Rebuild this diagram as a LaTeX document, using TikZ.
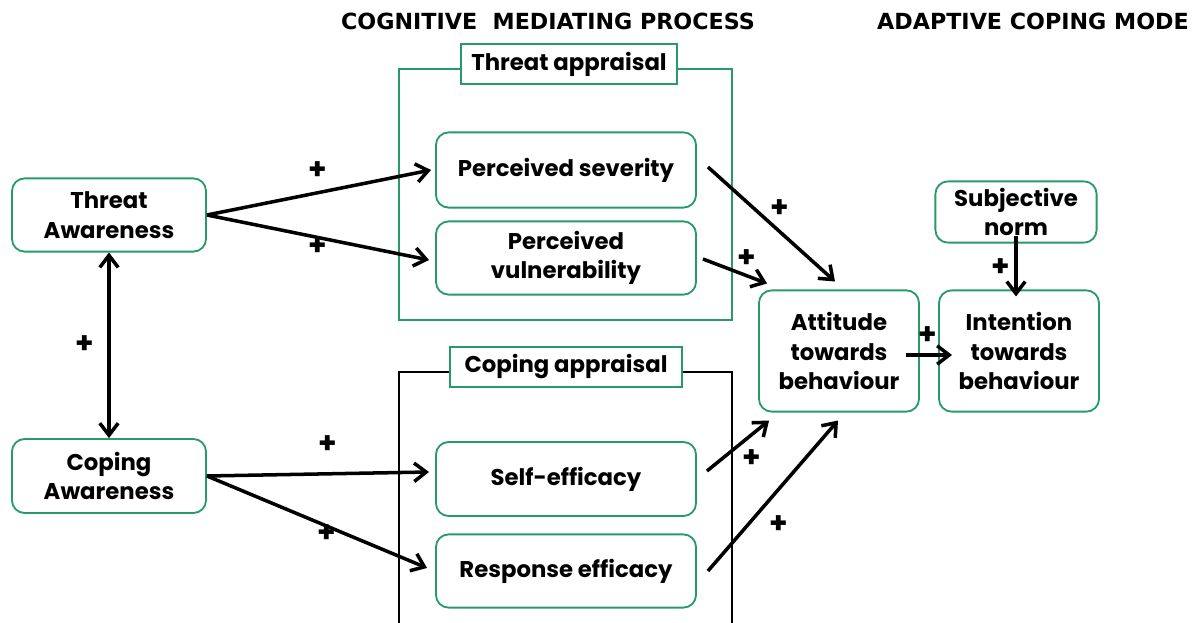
\documentclass[tikz,border=0pt]{standalone}
\usepackage{fontspec}
\setmainfont{Poppins}
\newfontfamily\headfont{DejaVu Sans}
\usetikzlibrary{arrows.meta,calc}
\definecolor{pmtgreen}{RGB}{38,154,106}
\tikzset{
    block/.style = {draw=pmtgreen, line width=1.3pt, rounded corners=9pt,
        align=center, font=\bfseries\fontsize{16.2}{21}\selectfont},
    frame/.style = {line width=1.3pt},
    title/.style = {draw=pmtgreen, fill=white, line width=1.3pt,
        minimum height=1cm, font=\bfseries\fontsize{16.2}{21}\selectfont},
    head/.style = {font=\headfont\bfseries\fontsize{15.8}{18}\selectfont},
    arrow/.style = {draw, line width=2.5pt, ->},
    plus/.style = {font=\bfseries\fontsize{21}{21}\selectfont}
}

\begin{document}
\begin{tikzpicture}[x=0.025cm, y=-0.025cm, >={Straight Barb[length=3mm,width=4.6mm]}]
    \useasboundingbox (0,0) rectangle (1192,623);
    \clip (0,0) rectangle (1192,623);

    \node [head] (cog) at (548,21) {COGNITIVE\ \ MEDIATING PROCESS};
    \node [head] (acm) at (1033,21) {ADAPTIVE COPING MODE};

    % appraisal frames
    \draw [frame, pmtgreen] (399,69) rectangle (732,320);
    \node [title, minimum width=5.4cm] (thr) at (569,64) {Threat appraisal};
    \draw [frame, black] (399,372) rectangle (732,624);
    \node [title, minimum width=5.78cm] (cop) at (566,367) {Coping appraisal};

    \node [block, minimum width=4.85cm, minimum height=1.83cm] (ta) at (109,215) {Threat\\Awareness};
    \node [block, minimum width=4.85cm, minimum height=1.85cm] (ca) at (109,476) {Coping\\Awareness};
    \node [block, minimum width=6.5cm, minimum height=1.88cm] (ps) at (566,170) {Perceived severity};
    \node [block, minimum width=6.5cm, minimum height=1.83cm] (pv) at (566,258) {Perceived\\vulnerability};
    \node [block, minimum width=6.5cm, minimum height=1.85cm] (se) at (566,479) {Self-efficacy};
    \node [block, minimum width=6.5cm, minimum height=1.83cm] (re) at (566,571) {Response efficacy};
    \node [block, minimum width=4cm, minimum height=3.03cm] (att) at (839,351) {Attitude\\towards\\behaviour};
    \node [block, minimum width=4cm, minimum height=3.03cm] (int) at (1019,351) {Intention\\towards\\behaviour};
    \node [block, minimum width=4.03cm, minimum height=1.53cm] (sn) at (1016,212) {Subjective\\norm};

    % awareness -> appraisal
    \draw [arrow] (ta.east) -- ($(ps.west)+(-4,0)$);
    \draw [arrow] (ta.east) -- ($(pv.west)+(-6,2)$);
    \draw [arrow, <->] (ta.south) -- (ca.north);
    \draw [arrow] (ca.east) -- ($(se.west)+(-6,-7)$);
    \draw [arrow] (ca.east) -- ($(re.west)+(-8,-3)$);

    % appraisal -> attitude -> intention
    \draw [arrow] ($(ps.east)+(11,-3)$) -- ($(att.north)+(-4,-8)$);
    \draw [arrow] ($(pv.east)+(6,1)$) -- ($(att.north west)+(9,-6)$);
    \draw [arrow] ($(se.east)+(10,-8)$) -- ($(att.south west)+(11,8)$);
    \draw [arrow] ($(re.east)+(11,0)$) -- ($(att.south)+(-1,8)$);
    \draw [arrow] ($(att.east)+(-14,4)$) -- ($(int.west)+(14,4)$);
    \draw [arrow] ($(sn.south)+(0,-8)$) -- ($(int.north)+(-3,7)$);

    \node [plus] at (318,171) {+};
    \node [plus] at (318,247) {+};
    \node [plus] at (85,345) {+};
    \node [plus] at (328,445) {+};
    \node [plus] at (327,534) {+};
    \node [plus] at (780,209) {+};
    \node [plus] at (747,259) {+};
    \node [plus] at (928,336) {+};
    \node [plus] at (1001,268) {+};
    \node [plus] at (752,459) {+};
    \node [plus] at (779,525) {+};
\end{tikzpicture}
\end{document}
